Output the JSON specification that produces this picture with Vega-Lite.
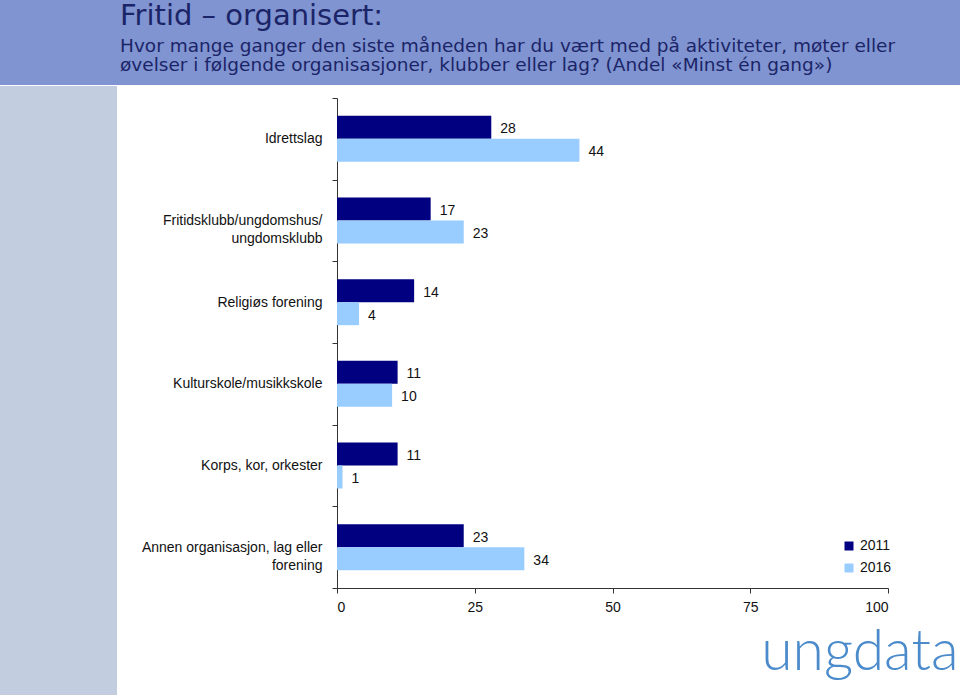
{
  "$schema": "https://vega.github.io/schema/vega-lite/v6.json",
  "padding": 0,
  "background": "white",
  "spacing": -6,
  "config": {
    "view": {"stroke": null},
    "font": "Liberation Sans",
    "concat": {"spacing": 0}
  },
  "datasets": {
    "bars": [
      {"kategori": "Idrettslag", "år": "2011", "andel": 28},
      {"kategori": "Idrettslag", "år": "2016", "andel": 44},
      {"kategori": "Fritidsklubb/ungdomshus/ ungdomsklubb", "år": "2011", "andel": 17},
      {"kategori": "Fritidsklubb/ungdomshus/ ungdomsklubb", "år": "2016", "andel": 23},
      {"kategori": "Religiøs forening", "år": "2011", "andel": 14},
      {"kategori": "Religiøs forening", "år": "2016", "andel": 4},
      {"kategori": "Kulturskole/musikkskole", "år": "2011", "andel": 11},
      {"kategori": "Kulturskole/musikkskole", "år": "2016", "andel": 10},
      {"kategori": "Korps, kor, orkester", "år": "2011", "andel": 11},
      {"kategori": "Korps, kor, orkester", "år": "2016", "andel": 1},
      {"kategori": "Annen organisasjon, lag eller forening", "år": "2011", "andel": 23},
      {"kategori": "Annen organisasjon, lag eller forening", "år": "2016", "andel": 34}
    ]
  },
  "vconcat": [
    {
      "width": 960,
      "height": 85,
      "view": {"fill": "#7f94d0", "stroke": null},
      "data": {"values": [{"t": ""}]},
      "mark": {"type": "text"},
      "encoding": {"text": {"field": "t"}},
      "title": {
        "text": "Fritid – organisert:",
        "subtitle": [
          "Hvor mange ganger den siste måneden har du vært med på aktiviteter, møter eller",
          "øvelser i følgende organisasjoner, klubber eller lag? (Andel «Minst én gang»)"
        ],
        "anchor": "start",
        "frame": "group",
        "orient": "bottom",
        "offset": -83,
        "dx": 120,
        "font": "DejaVu Sans",
        "fontSize": 29,
        "fontWeight": "normal",
        "color": "#1c2468",
        "subtitleFont": "DejaVu Sans",
        "subtitleFontSize": 18.5,
        "subtitleColor": "#1c2468",
        "subtitleLineHeight": 19,
        "subtitlePadding": 6
      }
    },
    {
      "hconcat": [
        {
          "width": 117,
          "height": 610,
          "view": {"fill": "#c3cde0", "stroke": null},
          "data": {"values": [{"t": ""}]},
          "mark": {"type": "text"},
          "encoding": {"text": {"field": "t"}}
        },
        {
          "width": 551,
          "height": 502,
          "data": {"name": "bars"},
          "encoding": {
            "y": {
              "field": "kategori",
              "type": "nominal",
              "sort": null,
              "scale": {"paddingInner": 0, "paddingOuter": 0, "range": [12, 502]},
              "axis": {
                "title": null,
                "tickBand": "extent",
                "tickSize": 5,
                "tickColor": "#333333",
                "domainColor": "#333333",
                "labelPadding": 10,
                "labelFontSize": 14,
                "labelColor": "#111111",
                "labelLimit": 300,
                "labelLineHeight": 18,
                "labelExpr": "datum.label == 'Fritidsklubb/ungdomshus/ ungdomsklubb' ? ['Fritidsklubb/ungdomshus/', 'ungdomsklubb'] : datum.label == 'Annen organisasjon, lag eller forening' ? ['Annen organisasjon, lag eller', 'forening'] : datum.label",
                "encode": {
                  "labels": {
                    "update": {
                      "align": {"signal": "datum.value == 'Fritidsklubb/ungdomshus/ ungdomsklubb' || datum.value == 'Annen organisasjon, lag eller forening' ? 'center' : 'right'"},
                      "dx": {"signal": "datum.value == 'Fritidsklubb/ungdomshus/ ungdomsklubb' ? -80 : datum.value == 'Annen organisasjon, lag eller forening' ? -90 : 0"}
                    }
                  }
                }
              }
            },
            "yOffset": {
              "field": "år",
              "type": "nominal",
              "scale": {"paddingInner": 0, "paddingOuter": 0.775}
            },
            "x": {
              "field": "andel",
              "type": "quantitative",
              "scale": {"domain": [0, 100]},
              "axis": {
                "values": [0, 25, 50, 75, 100],
                "grid": false,
                "tickSize": 5,
                "tickColor": "#333333",
                "domainColor": "#333333",
                "labelPadding": 7,
                "labelFontSize": 14,
                "labelColor": "#111111",
                "title": "ungdata",
                "titleFont": "Lato",
                "titleFontSize": 57,
                "titleFontWeight": 300,
                "titleColor": "#4b8bcb",
                "titleAlign": "right",
                "titleAnchor": "end",
                "titleBaseline": "alphabetic",
                "titleX": 621,
                "titleY": 81
              }
            }
          },
          "layer": [
            {
              "mark": {"type": "bar"},
              "encoding": {
                "color": {
                  "field": "år",
                  "type": "nominal",
                  "scale": {"domain": ["2011", "2016"], "range": ["#000080", "#99ccff"]},
                  "legend": {
                    "title": null,
                    "orient": "none",
                    "legendX": 842,
                    "legendY": 539,
                    "symbolType": "square",
                    "symbolSize": 81,
                    "symbolStrokeWidth": 0,
                    "labelFontSize": 14,
                    "labelColor": "#111111",
                    "labelOffset": 4,
                    "rowPadding": 8,
                    "padding": 0
                  }
                }
              }
            },
            {
              "mark": {"type": "text", "align": "left", "baseline": "middle", "dx": 9, "dy": 2, "fontSize": 14, "color": "#111111"},
              "encoding": {"text": {"field": "andel", "type": "quantitative"}}
            }
          ]
        }
      ],
      "spacing": 24
    }
  ]
}
